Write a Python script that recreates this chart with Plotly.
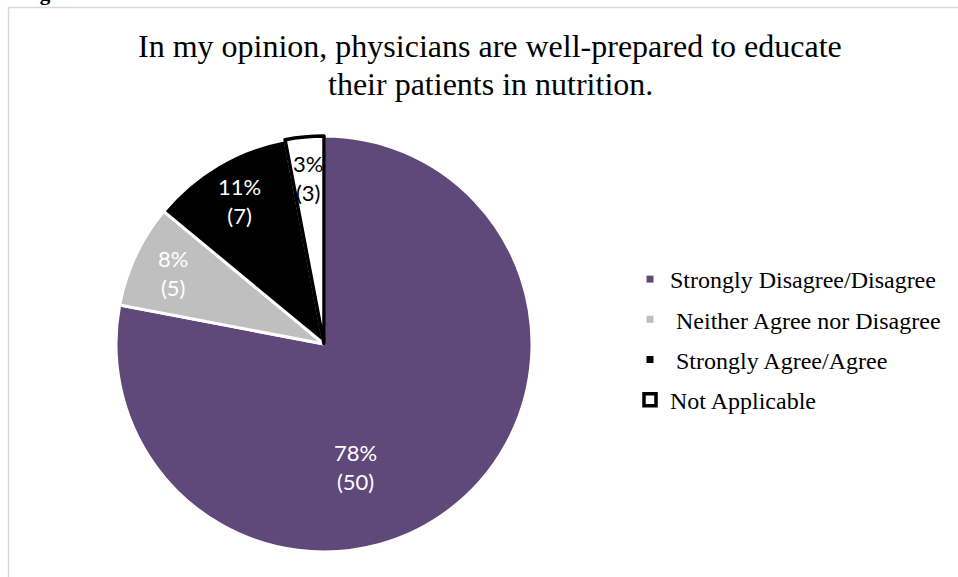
import math
import plotly.graph_objects as go

# Survey responses
categories = [
    "Strongly Disagree/Disagree",
    "Neither Agree nor Disagree",
    "Strongly Agree/Agree",
    "Not Applicable",
]
percents = [78, 8, 11, 3]
counts = [50, 5, 7, 3]

title_lines = [
    "In my opinion, physicians are well-prepared to educate",
    "their patients in nutrition.",
]

# Canvas and pie geometry (pixels)
W, H = 958, 577
CX, CY, R = 324, 344, 208

slice_colors = ["#5f497a", "#bfbfbf", "#000000", "#ffffff"]
edge_colors = ["#ffffff", "#ffffff", "#ffffff", "#000000"]
edge_widths = [3, 3, 3, 3.5]
label_colors = ["#ffffff", "#ffffff", "#ffffff", "#000000"]
legend_names = [
    "Strongly Disagree/Disagree",
    "\u00a0Neither Agree nor Disagree",
    "\u00a0Strongly Agree/Agree",
    "Not Applicable",
]

fig = go.Figure()

fig.add_trace(go.Pie(
    values=percents,
    labels=categories,
    customdata=counts,
    sort=False,
    direction="clockwise",
    rotation=0,
    marker=dict(colors=slice_colors, line=dict(color=edge_colors, width=edge_widths)),
    textinfo="none",
    hovertemplate="%{label}: %{value}% (%{customdata})<extra></extra>",
    showlegend=False,
    domain=dict(x=[(CX - R) / W, (CX + R) / W],
                y=[(H - CY - R) / H, (H - CY + R) / H]),
))

# Legend entries as marker-only traces, one group each so they can be spaced
for i, name in enumerate(legend_names):
    if i == 3:
        mk = dict(symbol="square", size=12, color="#ffffff",
                  line=dict(color="#000000", width=3.5))
    else:
        mk = dict(symbol="square", size=7, color=slice_colors[i],
                  line=dict(width=0))
    fig.add_trace(go.Scatter(
        x=[None], y=[None], mode="markers", name=name,
        legendgroup=f"g{i}", marker=mk, hoverinfo="skip",
    ))

# Slice labels at the slice mid-angle; the large slice label sits lower
annotations = []
total = sum(percents)
start = 0
for i, (p, c) in enumerate(zip(percents, counts)):
    mid = (start + p / 2) / total * 360
    start += p
    ang, rf = mid, 0.8
    if i == 0:
        ang, rf = mid + 25, 0.61
    a = math.radians(ang)
    px = CX + rf * R * math.sin(a)
    py = CY - rf * R * math.cos(a)
    annotations.append(dict(
        x=px / W, y=(H - py) / H, xref="paper", yref="paper",
        text=f"{p}%<br>({c})", showarrow=False,
        font=dict(family="Lato", size=22, color=label_colors[i]),
        xanchor="center", yanchor="middle", align="center",
    ))

# Two-line chart title
for line, ty in zip(title_lines, [46, 84]):
    annotations.append(dict(
        x=490 / W, y=(H - ty) / H, xref="paper", yref="paper",
        text=line, showarrow=False, align="center",
        font=dict(family="Liberation Serif", size=32, color="#000000"),
        xanchor="center", yanchor="middle",
    ))

annotations.append(dict(
    x=19 / W, y=(H + 7) / H, xref="paper", yref="paper",
    text="<b>Figure 1.</b>", showarrow=False,
    font=dict(family="Liberation Serif", size=21, color="#000000"),
    xanchor="left", yanchor="middle",
))

fig.update_layout(
    width=W, height=H,
    margin=dict(l=0, r=0, t=0, b=0),
    paper_bgcolor="#ffffff", plot_bgcolor="#ffffff",
    xaxis=dict(visible=False), yaxis=dict(visible=False),
    showlegend=True,
    legend=dict(
        x=630 / W, y=(H - 257) / H, xanchor="left", yanchor="top",
        font=dict(family="Liberation Serif", size=24, color="#000000"),
        tracegroupgap=6, bgcolor="rgba(0,0,0,0)", borderwidth=0,
        itemsizing="trace",
    ),
    annotations=annotations,
    shapes=[dict(
        type="rect", xref="paper", yref="paper",
        x0=8.5 / W, y0=-0.05, x1=1.05, y1=(H - 7.5) / H,
        line=dict(color="#d9d9d9", width=1.5), fillcolor="rgba(0,0,0,0)",
        layer="below",
    )],
)

fig.write_html("out.html")
